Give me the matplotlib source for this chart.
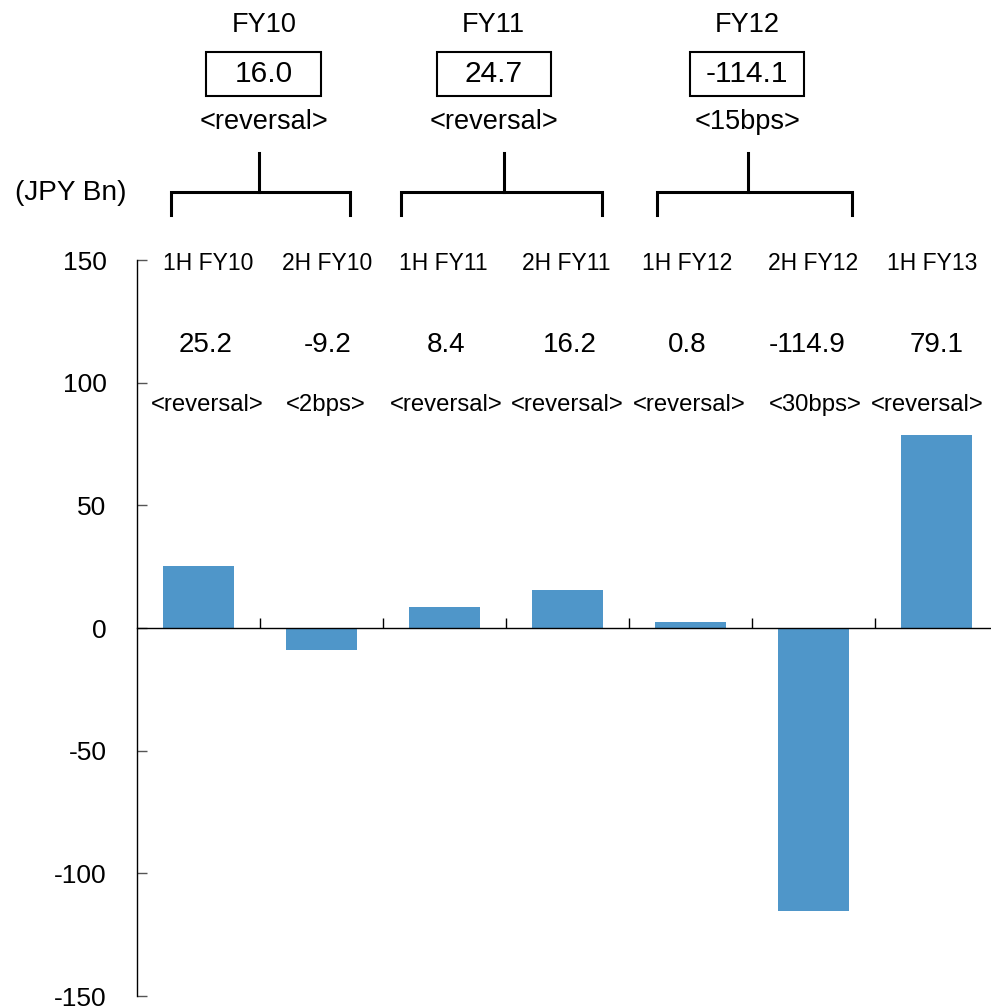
import matplotlib
matplotlib.use("Agg")
import matplotlib.pyplot as plt
import matplotlib.transforms as mtrans
from matplotlib.patches import Rectangle
from matplotlib.lines import Line2D

plt.rcParams['font.family'] = ['Liberation Sans', 'DejaVu Sans']

# ---- data ----
categories = ["1H FY10", "2H FY10", "1H FY11", "2H FY11", "1H FY12", "2H FY12", "1H FY13"]
bar_values = [25.2, -9.0, 8.6, 15.6, 2.4, -115.2, 78.7]
value_labels = ["25.2", "-9.2", "8.4", "16.2", "0.8", "-114.9", "79.1"]
notes = ["<reversal>", "<2bps>", "<reversal>", "<reversal>", "<reversal>", "<30bps>", "<reversal>"]
fy_names = ["FY10", "FY11", "FY12"]
fy_totals = ["16.0", "24.7", "-114.1"]
fy_notes = ["<reversal>", "<reversal>", "<15bps>"]
yticks = [-150, -100, -50, 0, 50, 100, 150]

W, H = 991, 1008
fig = plt.figure(figsize=(W / 100, H / 100), dpi=100)

def fy(py):
    return 1 - py / H

x0, x1 = 137, 998
step = (x1 - x0) / len(categories)
ax = fig.add_axes([x0 / W, fy(996), (x1 - x0) / W, (996 - 260) / H])
ax.set_xlim(-0.5, len(categories) - 0.5)
ax.set_ylim(-150, 150)

xs = list(range(len(categories)))
ax.bar(xs, bar_values, width=0.57, color='#4F96C9', zorder=2)

for s in ['top', 'right']:
    ax.spines[s].set_visible(False)
ax.spines['bottom'].set_position(('data', 0))
ax.spines['bottom'].set_zorder(3)
ax.spines['left'].set_linewidth(1.0)
ax.spines['bottom'].set_linewidth(1.0)

ax.set_yticks(yticks)
ax.set_yticklabels([str(v) for v in yticks])
ax.tick_params(axis='y', direction='in', length=7, width=1, labelsize=19, pad=22, color='#555555')
ax.set_xticks([i + 0.5 for i in range(len(categories) - 1)])
ax.set_xticklabels([])
ax.tick_params(axis='x', direction='in', length=7, width=1, color='black')

trans = mtrans.blended_transform_factory(ax.transData, fig.transFigure)

# small per-column horizontal nudges (pixels)
cat_off = [10, 6, -1, -1, -3, 0, -4]
val_off = [7, 6, 2, 2, -3, -6, 0]
note_off = [9, 4, 2, 0, -1, 2, -9]
for i, c in enumerate(categories):
    fig.text(i + cat_off[i] / step, fy(263), c, transform=trans, ha='center', va='center', fontsize=16.5)
    fig.text(i + val_off[i] / step, fy(345), value_labels[i], transform=trans, ha='center', va='center', fontsize=20)
    fig.text(i + note_off[i] / step, fy(405), notes[i], transform=trans, ha='center', va='center', fontsize=17.2)

fig.text(15 / W, fy(193), "(JPY Bn)", ha='left', va='center', fontsize=20.2)

text_centers = [0.53, 2.40, 4.46]
stems = [0.49, 2.48, 4.47]
br_left = [-0.224, 1.646, 3.73]
br_right = [1.232, 3.28, 5.31]
box_w = 0.93
for k in range(3):
    cx = text_centers[k]
    fig.text(cx, fy(25), fy_names[k], transform=trans, ha='center', va='center', fontsize=19.5)
    fig.text(cx, fy(74), fy_totals[k], transform=trans, ha='center', va='center', fontsize=21.5)
    fig.patches.append(Rectangle((cx - box_w / 2, fy(96)), box_w, (96 - 52) / H,
                                 transform=trans, fill=False, edgecolor='black', linewidth=1.5))
    fig.text(cx, fy(122), fy_notes[k], transform=trans, ha='center', va='center', fontsize=19.5)
    # bracket
    fig.lines.append(Line2D([stems[k], stems[k]], [fy(153), fy(192)], transform=trans, color='black', lw=2.2))
    fig.lines.append(Line2D([br_left[k], br_left[k], br_right[k], br_right[k]],
                            [fy(215), fy(192), fy(192), fy(215)], transform=trans,
                            color='black', lw=2.2, solid_joinstyle='miter'))

fig.savefig("out.png", dpi=100)
